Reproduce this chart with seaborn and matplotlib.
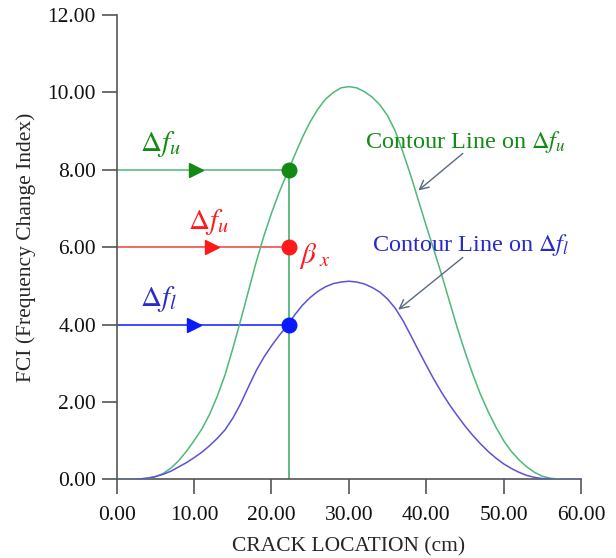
import matplotlib
matplotlib.use("Agg")
import matplotlib.pyplot as plt
import seaborn as sns
import pandas as pd

# ---- data ----
crack_x = list(range(0, 61))
fci_upper = [0, 0, 0, 0.01, 0.03, 0.07, 0.15, 0.29, 0.48, 0.72,
             1.0, 1.3, 1.68, 2.15, 2.7, 3.38, 4.1, 4.85, 5.6, 6.28,
             6.88, 7.42, 7.9, 8.38, 8.84, 9.24, 9.57, 9.83, 10.0, 10.12,
             10.15, 10.12, 10.02, 9.88, 9.68, 9.4, 9.0, 8.45, 7.85, 7.2,
             6.55, 5.92, 5.28, 4.6, 3.92, 3.3, 2.72, 2.2, 1.75, 1.35,
             1.0, 0.72, 0.5, 0.32, 0.18, 0.08, 0.03, 0.01, 0, 0, 0]
fci_lower = [0, 0, 0, 0.01, 0.03, 0.07, 0.13, 0.21, 0.32, 0.43,
             0.56, 0.7, 0.87, 1.06, 1.28, 1.58, 1.95, 2.38, 2.8, 3.15,
             3.45, 3.72, 3.96, 4.25, 4.5, 4.7, 4.86, 4.98, 5.06, 5.1,
             5.12, 5.1, 5.05, 4.96, 4.84, 4.66, 4.42, 4.1, 3.72, 3.33,
             2.95, 2.58, 2.24, 1.93, 1.65, 1.38, 1.14, 0.92, 0.72, 0.55,
             0.4, 0.28, 0.18, 0.1, 0.05, 0.02, 0.01, 0, 0, 0, 0]

beta_x = 22.2
level_upper = 8.0
level_red = 6.0
level_lower = 4.0
arrow_pos = [10.2, 12.3, 10.0]

x_ticks = [0, 10, 20, 30, 40, 50, 60]
y_ticks = [0, 2, 4, 6, 8, 10, 12]

# ---- style ----
sns.set_style("ticks")
plt.rcParams["font.family"] = ["Liberation Serif", "DejaVu Serif"]
plt.rcParams["mathtext.fontset"] = "stix"

curve_green = "#4fb878"
curve_blue = "#5a52d8"
dark_green = "#138a13"
red = "#ff1a1a"
blue = "#0a1aff"
dark_blue_txt = "#2a2ac8"
axis_gray = "#555555"

fig = plt.figure(figsize=(6.16, 5.58), dpi=100)
ax = fig.add_axes([0.1895, 0.141, 0.7537, 0.832])

df = pd.DataFrame({"x": crack_x, "upper": fci_upper, "lower": fci_lower})
sns.lineplot(data=df, x="x", y="upper", ax=ax, color=curve_green, lw=1.1, zorder=3)
sns.lineplot(data=df, x="x", y="lower", ax=ax, color=curve_blue, lw=1.1, zorder=3)

# horizontal level lines
for lvl, col in [(level_upper, curve_green), (level_red, "#f04040"), (level_lower, blue)]:
    sns.lineplot(x=[0, beta_x], y=[lvl, lvl], ax=ax, color=col, lw=1.1, zorder=2)
# vertical line at beta_x
sns.lineplot(x=[beta_x, beta_x], y=[0, level_upper], ax=ax, color=curve_green, lw=1.3,
             orient="y", zorder=2)

# direction triangles
for xa, lvl, col in zip(arrow_pos, [level_upper, level_red, level_lower], [dark_green, red, blue]):
    ax.plot([xa], [lvl], marker=">", color=col, markersize=9.5, zorder=4)
# intersection points
for lvl, col in [(level_upper, dark_green), (level_red, red), (level_lower, blue)]:
    ax.plot([beta_x], [lvl], marker="o", color=col, markersize=10.5, zorder=5)

# labels
ax.text(3.0, 8.66, r"$\Delta f_u$", color=dark_green, fontsize=21, va="center", ha="left")
ax.text(9.2, 6.66, r"$\Delta f_u$", color=red, fontsize=21, va="center", ha="left")
ax.text(3.0, 4.66, r"$\Delta f_l$", color=dark_blue_txt, fontsize=21, va="center", ha="left")
ax.text(23.6, 5.78, r"$\beta_{\ x}$", color=red, fontsize=21, va="center", ha="left")

ax.text(32.1, 8.72, r"Contour Line on $\Delta f_u$", color=dark_green, fontsize=17.5,
        va="center", ha="left")
ax.text(33.0, 6.06, r"Contour Line on $\Delta f_l$", color=dark_blue_txt, fontsize=17.5,
        va="center", ha="left")

arrow_col = "#5a6a7a"
ax.annotate("", xy=(38.7, 7.42), xytext=(45.0, 8.47),
            arrowprops=dict(arrowstyle="->", color=arrow_col, lw=1.0, mutation_scale=16))
ax.annotate("", xy=(36.1, 4.34), xytext=(45.0, 5.78),
            arrowprops=dict(arrowstyle="->", color=arrow_col, lw=1.0, mutation_scale=16))

# axes
ax.set_xlim(0, 60)
ax.set_ylim(0, 12)
ax.set_xticks(x_ticks)
ax.set_yticks(y_ticks)
ax.set_xticklabels([f"{v:.2f}" for v in x_ticks])
ax.set_yticklabels([f"{v:.2f}" for v in y_ticks])
ax.tick_params(axis="both", direction="out", length=11, width=1.2, color=axis_gray,
               labelsize=15.5, labelcolor="#111111")
ax.tick_params(axis="x", pad=8)
ax.tick_params(axis="y", pad=4)
sns.despine(ax=ax)
for s in ["left", "bottom"]:
    ax.spines[s].set_color(axis_gray)
    ax.spines[s].set_linewidth(1.2)
ax.set_xlabel("CRACK LOCATION (cm)", fontsize=15.5, labelpad=9)
ax.set_ylabel("FCI (Frequency Change Index)", fontsize=15.5, labelpad=8)

fig.savefig("out.png", dpi=100)
